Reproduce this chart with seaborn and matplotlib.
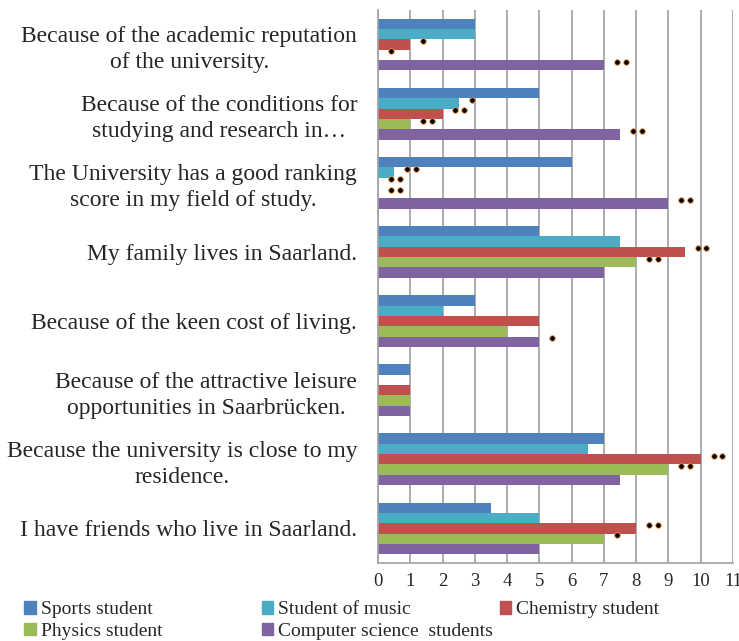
import numpy as np
import pandas as pd
import matplotlib.pyplot as plt
import seaborn as sns

reasons = [
    "Because of the academic reputation\nof the university.",
    "Because of the conditions for\nstudying and research in…",
    "The University has a good ranking\nscore in my field of study.",
    "My family lives in Saarland.",
    "Because of the keen cost of living.",
    "Because of the attractive leisure\nopportunities in Saarbrücken.",
    "Because the university is close to my\nresidence.",
    "I have friends who live in Saarland.",
]
series = ["Sports student", "Student of music", "Chemistry student",
          "Physics student", "Computer science  students"]
colors = ["#4F81BD", "#4BACC6", "#C0504D", "#9BBB59", "#8064A2"]

sports = [3, 5, 6, 5, 3, 1, 7, 3.5]
music = [3, 2.5, 0.5, 7.5, 2, 0, 6.5, 5]
chemistry = [1, 2, 0, 9.5, 5, 1, 10, 8]
physics = [0, 1, 0, 8, 4, 1, 9, 7]
computer = [7, 7.5, 9, 7, 5, 1, 7.5, 5]

# number of significance dots per bar
sig_sports = [0, 0, 0, 0, 0, 0, 0, 0]
sig_music = [0, 1, 2, 0, 0, 0, 0, 0]
sig_chemistry = [1, 2, 2, 2, 0, 0, 2, 2]
sig_physics = [1, 2, 2, 2, 0, 0, 2, 1]
sig_computer = [2, 2, 2, 0, 1, 0, 0, 0]

values = [sports, music, chemistry, physics, computer]
sigs = [sig_sports, sig_music, sig_chemistry, sig_physics, sig_computer]

df = pd.DataFrame({
    "reason": np.repeat(reasons, len(series)),
    "group": series * len(reasons),
    "value": [v[i] for i in range(len(reasons)) for v in values],
})

sns.set_style("white")
plt.rcParams["font.family"] = ["Liberation Serif", "DejaVu Sans"]

fig = plt.figure(figsize=(7.39, 6.41), dpi=100)
ax = fig.add_axes([0.5115, 0.1217, 0.4804, 0.8627])

width = 0.75
sns.barplot(data=df, y="reason", x="value", hue="group", order=reasons,
            hue_order=series, palette=colors, orient="h", width=width,
            saturation=1, linewidth=0, ax=ax, legend=False)

# significance dots
bar_h = width / len(series)
dot_x, dot_y = [], []
for j, (vals, sg) in enumerate(zip(values, sigs)):
    for i, (v, n) in enumerate(zip(vals, sg)):
        for k in range(n):
            dot_x.append(v + 0.4 + 0.27 * k)
            dot_y.append(i + (j - 2) * bar_h - 0.05)
ax.scatter(dot_x, dot_y, s=16, color="black", edgecolors="#F79646",
           linewidths=0.6, zorder=5)

ax.set_xlim(0, 11)
ax.set_xticks(range(12))
ax.set_ylim(len(reasons) - 0.5, -0.5)
ax.set_xlabel("")
ax.set_ylabel("")
ax.grid(axis="x", color="#a6a6a6", linewidth=1.3)
ax.set_axisbelow(True)
for s in ["top", "right"]:
    ax.spines[s].set_visible(False)
for s in ["left", "bottom"]:
    ax.spines[s].set_color("#a0a0a0")
    ax.spines[s].set_linewidth(1.2)

ax.set_yticks(np.arange(-0.5, len(reasons), 1), minor=True)
ax.tick_params(axis="y", which="major", length=0, pad=15, labelsize=17)
ax.tick_params(axis="y", which="minor", length=4, color="#a0a0a0", width=1.2)
ax.tick_params(axis="x", length=4, color="#a0a0a0", width=1.2, pad=3,
               labelsize=13.5)
for lbl in ax.get_yticklabels():
    lbl.set_multialignment("center")
    lbl.set_linespacing(1.32)

handles = [plt.Rectangle((0, 0), 1, 1, color=c) for c in colors]
cols = [[0, 3], [1, 4], [2]]
xs = [0.033, 0.354, 0.676]
for idx, x in zip(cols, xs):
    fig.legend([handles[i] for i in idx], [series[i] for i in idx],
               loc="upper left", bbox_to_anchor=(x, 0.062), frameon=False,
               fontsize=14, handlelength=0.6, handleheight=0.6,
               handletextpad=0.25, labelspacing=0.25, borderpad=0,
               borderaxespad=0)

fig.savefig("out.png", dpi=100)
